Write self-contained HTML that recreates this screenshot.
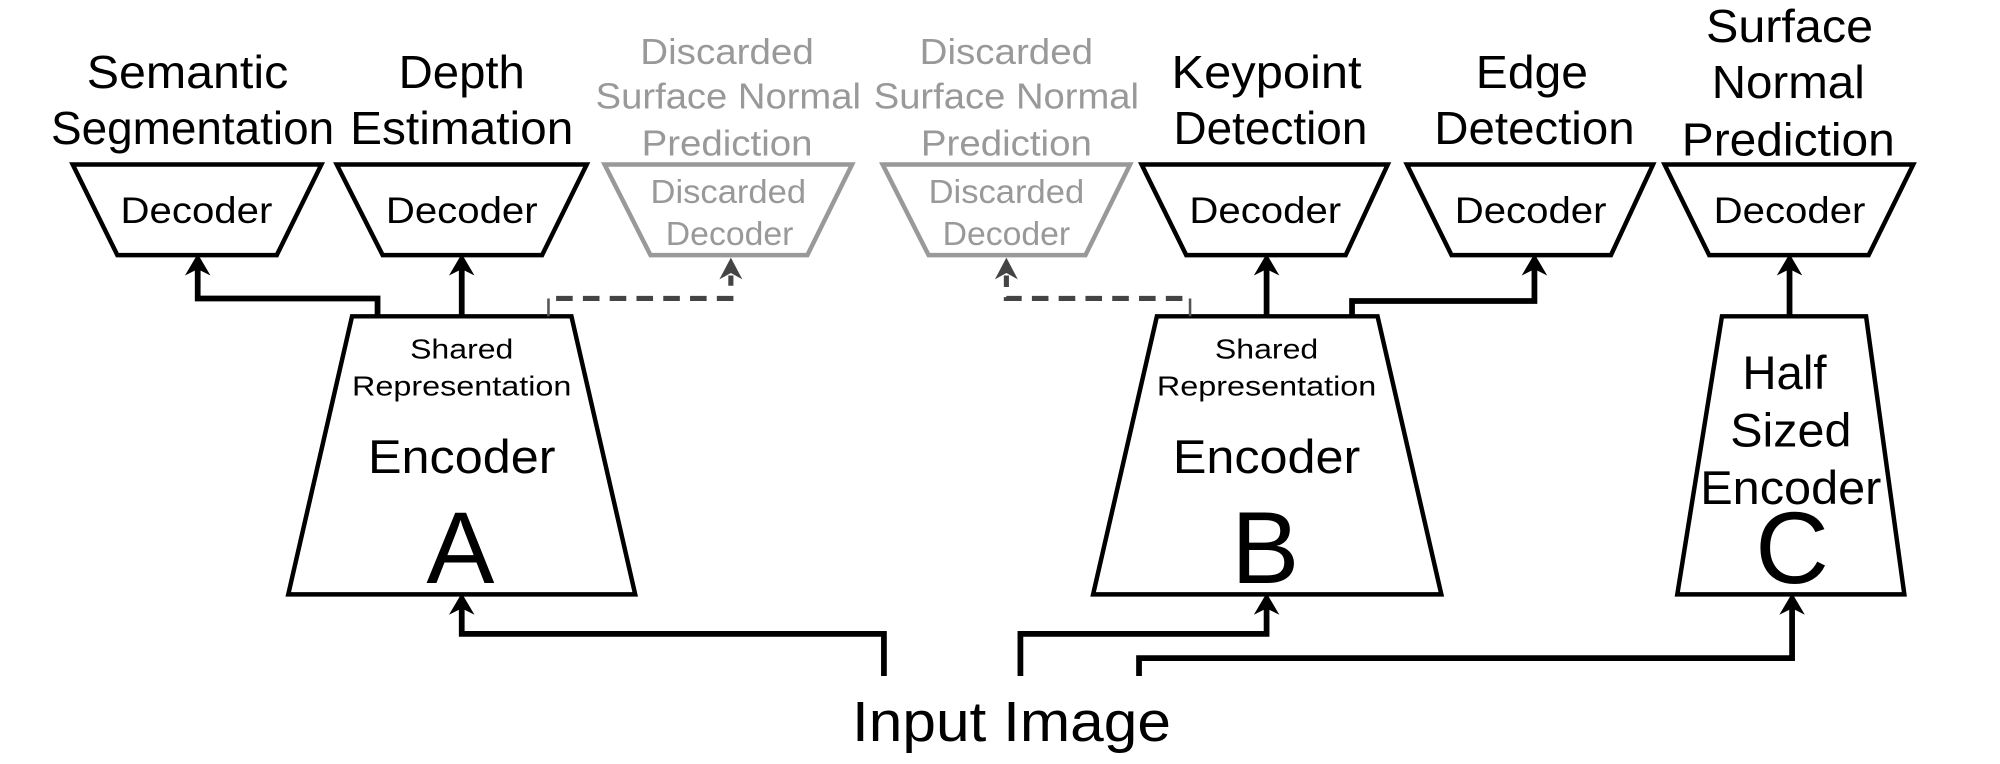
<!DOCTYPE html>
<html><head><meta charset="utf-8"><style>
html,body{margin:0;padding:0;background:#fff;}
svg{display:block;}
text{font-family:"Liberation Sans",sans-serif;text-anchor:middle;}
</style></head><body>
<svg width="2000" height="764" viewBox="0 0 1568 599" preserveAspectRatio="none" xmlns="http://www.w3.org/2000/svg">
<g fill="none" stroke="#000" stroke-width="3.5" stroke-linejoin="miter">
<polygon points="57,129 252,129 217,200 92,200"/>
<polygon points="264,129 460,129 425,200 300,200"/>
<polygon points="895,129 1088,129 1055,200 930,200"/>
<polygon points="1103,129 1296,129 1263,200 1138,200"/>
<polygon points="1305,129 1500,129 1465,200 1340,200"/>
<polygon points="276,248 448,248 498,466 226,466"/>
<polygon points="907,248 1080,248 1130,466 857,466"/>
<polygon points="1350,248 1463,248 1493,466 1315,466"/>
</g>
<g fill="none" stroke="#999" stroke-width="3.5">
<polygon points="474,129 668,129 633,200 510,200"/>
<polygon points="692,129 886,129 851,200 728,200"/>
</g>
<g fill="none" stroke="#000" stroke-width="4.5">
<polyline points="296,248 296,234 155,234 155,210"/>
<polyline points="362,248 362,210"/>
<polyline points="993,248 993,210"/>
<polyline points="1060,248 1060,236 1203,236 1203,210"/>
<polyline points="1403,248 1403,210"/>
<polyline points="693,530 693,497 362,497 362,476"/>
<polyline points="800,530 800,497 993,497 993,476"/>
<polyline points="893,530 893,516 1405,516 1405,476"/>
</g>
<g fill="#000">
<polygon points="155,199 145,216 155,211 165,216"/>
<polygon points="362,199 352,216 362,211 372,216"/>
<polygon points="993,199 983,216 993,211 1003,216"/>
<polygon points="1203,199 1193,216 1203,211 1213,216"/>
<polygon points="1403,199 1393,216 1403,211 1413,216"/>
<polygon points="362,465 352,482 362,477 372,482"/>
<polygon points="993,465 983,482 993,477 1003,482"/>
<polygon points="1405,465 1395,482 1405,477 1415,482"/>
</g>
<g fill="none" stroke="#555" stroke-width="2">
<polyline points="430,248 430,234"/>
<polyline points="933,248 933,234"/>
</g>
<g fill="none" stroke="#444" stroke-width="4" stroke-dasharray="13,8">
<polyline points="436,234 573,234 573,216"/>
<polyline points="927,234 789,234 789,216"/>
</g>
<g fill="#444">
<polygon points="573,202 564,219 573,214 582,219"/>
<polygon points="789,202 780,219 789,214 798,219"/>
</g>
<g fill="#000" font-size="36">
<text x="147" y="69" textLength="158" lengthAdjust="spacingAndGlyphs">Semantic</text>
<text x="151" y="113" textLength="222" lengthAdjust="spacingAndGlyphs">Segmentation</text>
<text x="362" y="69" textLength="99" lengthAdjust="spacingAndGlyphs">Depth</text>
<text x="362" y="113" textLength="175" lengthAdjust="spacingAndGlyphs">Estimation</text>
<text x="993" y="69" textLength="149" lengthAdjust="spacingAndGlyphs">Keypoint</text>
<text x="996" y="113" textLength="152" lengthAdjust="spacingAndGlyphs">Detection</text>
<text x="1201" y="69" textLength="88" lengthAdjust="spacingAndGlyphs">Edge</text>
<text x="1203" y="113" textLength="157" lengthAdjust="spacingAndGlyphs">Detection</text>
<text x="1403" y="33" textLength="131" lengthAdjust="spacingAndGlyphs">Surface</text>
<text x="1402" y="77" textLength="120" lengthAdjust="spacingAndGlyphs">Normal</text>
<text x="1402" y="122" textLength="167" lengthAdjust="spacingAndGlyphs">Prediction</text>
</g>
<g fill="#999" font-size="28">
<text x="570" y="50" textLength="136" lengthAdjust="spacingAndGlyphs">Discarded</text>
<text x="571" y="85" textLength="208" lengthAdjust="spacingAndGlyphs">Surface Normal</text>
<text x="570" y="122" textLength="134" lengthAdjust="spacingAndGlyphs">Prediction</text>
<text x="789" y="50" textLength="136" lengthAdjust="spacingAndGlyphs">Discarded</text>
<text x="789" y="85" textLength="208" lengthAdjust="spacingAndGlyphs">Surface Normal</text>
<text x="789" y="122" textLength="134" lengthAdjust="spacingAndGlyphs">Prediction</text>
</g>
<g fill="#000" font-size="29">
<text x="154" y="175" textLength="119" lengthAdjust="spacingAndGlyphs">Decoder</text>
<text x="362" y="175" textLength="119" lengthAdjust="spacingAndGlyphs">Decoder</text>
<text x="992" y="175" textLength="119" lengthAdjust="spacingAndGlyphs">Decoder</text>
<text x="1200" y="175" textLength="119" lengthAdjust="spacingAndGlyphs">Decoder</text>
<text x="1403" y="175" textLength="119" lengthAdjust="spacingAndGlyphs">Decoder</text>
</g>
<g fill="#999" font-size="26">
<text x="571" y="159" textLength="122" lengthAdjust="spacingAndGlyphs">Discarded</text>
<text x="572" y="192" textLength="100" lengthAdjust="spacingAndGlyphs">Decoder</text>
<text x="789" y="159" textLength="122" lengthAdjust="spacingAndGlyphs">Discarded</text>
<text x="789" y="192" textLength="100" lengthAdjust="spacingAndGlyphs">Decoder</text>
</g>
<g fill="#000" font-size="22">
<text x="362" y="281" textLength="81" lengthAdjust="spacingAndGlyphs">Shared</text>
<text x="362" y="310" textLength="172" lengthAdjust="spacingAndGlyphs">Representation</text>
<text x="993" y="281" textLength="81" lengthAdjust="spacingAndGlyphs">Shared</text>
<text x="993" y="310" textLength="172" lengthAdjust="spacingAndGlyphs">Representation</text>
</g>
<g fill="#000" font-size="37">
<text x="362" y="371" textLength="147" lengthAdjust="spacingAndGlyphs">Encoder</text>
<text x="993" y="371" textLength="147" lengthAdjust="spacingAndGlyphs">Encoder</text>
<text x="1399" y="305" textLength="66" lengthAdjust="spacingAndGlyphs">Half</text>
<text x="1404" y="350" textLength="95" lengthAdjust="spacingAndGlyphs">Sized</text>
<text x="1404" y="395" textLength="142" lengthAdjust="spacingAndGlyphs">Encoder</text>
</g>
<g fill="#000" font-size="80">
<text x="361" y="457">A</text>
<text x="992" y="457">B</text>
<text x="1405" y="457">C</text>
</g>
<text x="793" y="581" font-size="44" fill="#000" textLength="250" lengthAdjust="spacingAndGlyphs">Input Image</text>
</svg>
</body></html>
